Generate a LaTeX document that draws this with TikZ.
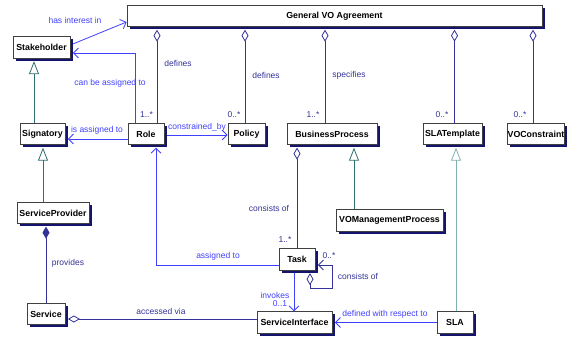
\documentclass[tikz,border=0pt]{standalone}
\usepackage{fontspec}
\setmainfont{Liberation Sans}
\usetikzlibrary{arrows.meta,shadows}
\definecolor{navyline}{RGB}{51,51,153}
\definecolor{blueline}{RGB}{64,64,255}
\definecolor{tealline}{RGB}{47,111,111}
\definecolor{paleteal}{RGB}{128,176,176}
\definecolor{shadownavy}{RGB}{20,20,110}

\begin{document}
\begin{tikzpicture}[x=1pt,y=-1pt,
    cls/.style={draw=black!75, line width=0.8pt, fill=white, font=\fontsize{8.8}{10}\selectfont\bfseries,
      inner sep=0pt, minimum height=21.5pt,
      drop shadow={shadow xshift=2.5pt,shadow yshift=-2.5pt,fill=shadownavy,opacity=1}},
    assoc/.style={blueline, line width=0.8pt, -{Straight Barb[length=5pt,width=10pt]}},
    aggr/.style={navyline, line width=0.8pt, -{Diamond[open,length=12pt,width=7pt]}, shorten >=2.5pt},
    comp/.style={navyline, line width=0.8pt, -{Diamond[length=12pt,width=7pt]}, shorten >=2.5pt},
    gen/.style={tealline, line width=0.8pt, -{Triangle[open,length=13pt,width=10pt]}, shorten >=2.5pt},
    lbl/.style={blueline, font=\fontsize{8.5}{10}\selectfont, inner sep=0pt},
    albl/.style={navyline, font=\fontsize{8.5}{10}\selectfont, inner sep=0pt}]
    \useasboundingbox (0,0) rectangle (569,337);
    %classes
    \node[cls, minimum width=415pt] (gva) at (334.5,16) {General VO Agreement};
    \node[cls, minimum width=57pt] (stake) at (41.5,47.5) {Stakeholder};
    \node[cls, minimum width=45pt] (sig) at (42.5,134) {Signatory};
    \node[cls, minimum width=36pt] (role) at (146,134) {Role};
    \node[cls, minimum width=37pt] (policy) at (246.5,134) {Policy};
    \node[cls, minimum width=90pt] (bp) at (332,134) {BusinessProcess};
    \node[cls, minimum width=59pt] (slat) at (452.5,134) {SLATemplate};
    \node[cls, minimum width=56pt] (voc) at (536,134) {VOConstraint};
    \node[cls, minimum width=72pt] (sp) at (53,213) {ServiceProvider};
    \node[cls, minimum width=38pt] (service) at (46,314) {Service};
    \node[cls, minimum width=107pt] (vomp) at (389.5,220.5) {VOManagementProcess};
    \node[cls, minimum width=36pt] (task) at (297,259.5) {Task};
    \node[cls, minimum width=75pt] (si) at (294.5,322.5) {ServiceInterface};
    \node[cls, minimum width=36pt] (sla) at (455,322.5) {SLA};
    %aggregations
    \draw[aggr] ([xshift=11pt]role.north) -- ([xshift=11pt]role.north |- gva.south);
    \draw[aggr] ([xshift=-1.5pt]policy.north) -- ([xshift=-1.5pt]policy.north |- gva.south);
    \draw[aggr] ([xshift=-7pt]bp.north) -- ([xshift=-7pt]bp.north |- gva.south);
    \draw[aggr] ([xshift=2pt]slat.north) -- ([xshift=2pt]slat.north |- gva.south);
    \draw[aggr] ([xshift=-3pt]voc.north) -- ([xshift=-3pt]voc.north |- gva.south);
    \draw[aggr] (task.north) -- (task.north |- bp.south);
    \draw[aggr] ([yshift=3.5pt]si.west) -- ([yshift=3.5pt]si.west -| service.east);
    \draw[comp] (service.north) -- (service.north |- sp.south);
    \draw[navyline, line width=0.8pt, {Straight Barb[length=5pt,width=10pt]}-{Diamond[open,length=12pt,width=7pt]},
      shorten <=2.5pt, shorten >=2.5pt]
      ([yshift=-5.5pt]task.east) -- ++(17pt,0) -- ++(0,-23pt) -| ([xshift=13pt]task.south);
    %associations
    \draw[assoc, shorten <=2.5pt] ([yshift=2.5pt]stake.east) -- ([yshift=-6pt]gva.west);
    \draw[assoc, shorten >=2.5pt] ([xshift=-11pt]role.north) |- ([yshift=-5.5pt]stake.east);
    \draw[assoc, shorten >=2.5pt] ([yshift=-5pt]role.west) -- ([yshift=-5pt]role.west -| sig.east);
    \draw[assoc, shorten <=2.5pt] ([yshift=-1pt]role.east) -- ([yshift=-1pt]role.east -| policy.west);
    \draw[assoc, shorten >=2.5pt] ([yshift=-5.5pt]task.west) -| ([xshift=10pt]role.south);
    \draw[assoc, shorten <=2.5pt] ([xshift=-3pt]task.south) -- ([xshift=-3pt]task.south |- si.north);
    \draw[assoc, shorten >=2.5pt] (sla.west) -- (sla.west -| si.east);
    %generalizations
    \draw[gen] ([xshift=-8.5pt]sig.north) -- ([xshift=-8.5pt]sig.north |- stake.south);
    \draw[gen] ([xshift=-10pt]sp.north) -- ([xshift=-10pt]sp.north |- sig.south);
    \draw[gen] ([xshift=-35.5pt]vomp.north) -- ([xshift=-35.5pt]vomp.north |- bp.south);
    \draw[gen, paleteal] ([xshift=1pt]sla.north) -- ([xshift=1pt]sla.north |- slat.south);
    %labels
    \node[lbl] (interest) at (75,20) {has interest in};
    \node[lbl] (canassign) at (110,83) {can be assigned to};
    \node[lbl] (isassign) at (97,130) {is assigned to};
    \node[lbl] (constr) at (197,127) {constrained\_by};
    \node[albl] (defrole) at (178,63) {defines};
    \node[albl] (defpol) at (266,75) {defines};
    \node[albl] (spec) at (349,75) {specifies};
    \node[albl] (mrole) at (146.5,115) {1..*};
    \node[albl] (mpol) at (234,115) {0..*};
    \node[albl] (mbp) at (313,115) {1..*};
    \node[albl] (mslat) at (442,115) {0..*};
    \node[albl] (mvoc) at (520,115) {0..*};
    \node[albl] (prov) at (68,263) {provides};
    \node[albl] (access) at (161,311) {accessed via};
    \node[albl] (consbp) at (269,208) {consists of};
    \node[albl] (mtask) at (285,240) {1..*};
    \node[lbl] (assignto) at (218,256) {assigned to};
    \node[albl] (mloop) at (329,256) {0..*};
    \node[albl] (constask) at (358,276) {consists of};
    \node[lbl] (invokes) at (275,295) {invokes};
    \node[lbl] (msi) at (280,304) {0..1};
    \node[lbl] (defresp) at (385,314) {defined with respect to};
\end{tikzpicture}
\end{document}
